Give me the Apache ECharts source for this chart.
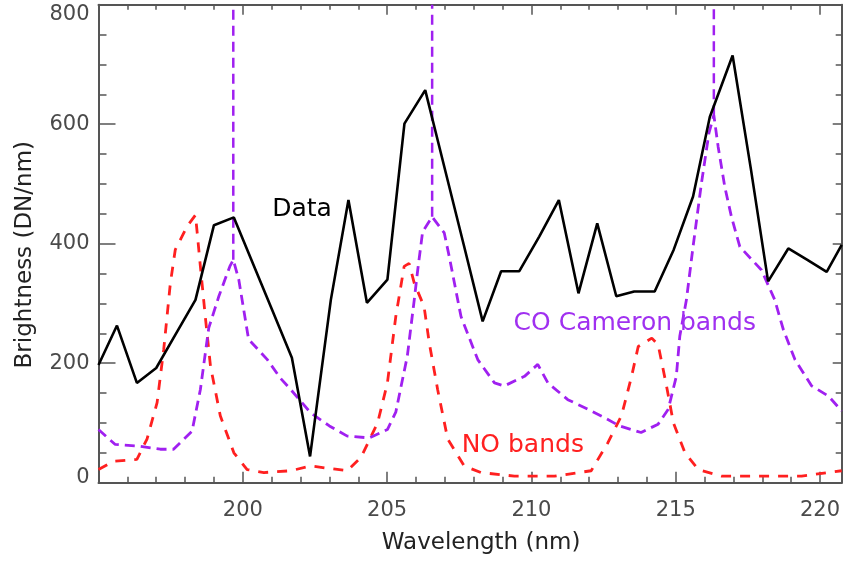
<!DOCTYPE html>
<html><head><meta charset="utf-8">
<script src="https://cdn.jsdelivr.net/npm/echarts@6/dist/echarts.min.js"></script>
<style>html,body{margin:0;padding:0;background:#fff}#c{width:846px;height:565px}</style>
</head><body><div id="c"></div>
<script>
// ---- data ----
const dataLine = [[195.0,197],[195.64,263],[196.33,167],[197.0,192],[197.68,249],[198.36,306],[199.0,431],[199.69,444],[200.35,367],[201.0,291],[201.7,209],[202.33,44],[203.05,306],[203.66,473],[204.3,301],[205.01,340],[205.6,601],[206.32,657],[207.0,525],[207.65,399],[208.31,270],[208.95,354],[209.58,354],[210.27,412],[210.95,473],[211.63,317],[212.28,434],[212.94,312],[213.56,320],[214.27,320],[214.93,390],[215.6,479],[216.18,612],[216.97,715],[217.6,526],[218.2,337],[218.9,392],[219.56,373],[220.23,353],[220.75,398]];
const coBands = [[195.0,89],[195.58,64],[196.45,61],[197.14,56],[197.6,56],[198.24,86],[198.53,156],[198.82,259],[199.17,312],[199.55,362],[199.67,373],[199.86,340],[200.2,240],[200.85,206],[201.3,175],[201.66,156],[202.35,117],[203.0,95],[203.62,78],[204.38,75],[205.01,89],[205.3,118],[205.7,212],[205.94,306],[206.06,356],[206.23,420],[206.56,445],[206.98,418],[207.15,379],[207.56,278],[208.14,206],[208.72,167],[209.06,162],[209.76,178],[210.22,198],[210.57,167],[211.26,139],[211.96,123],[212.53,109],[213.05,95],[213.8,84],[214.39,98],[214.74,123],[215.02,178],[215.14,245],[215.37,306],[215.6,395],[215.89,501],[216.15,585],[216.32,615],[216.47,562],[216.7,495],[216.93,445],[217.22,395],[217.97,356],[218.43,306],[218.73,256],[219.13,206],[219.71,162],[220.29,145],[220.75,120]];
const noBands = [[195.0,22],[195.52,36],[196.33,39],[196.68,73],[197.03,134],[197.26,223],[197.49,334],[197.66,390],[198.07,429],[198.36,448],[198.42,418],[198.53,362],[198.7,278],[198.88,195],[199.22,112],[199.69,50],[200.15,22],[200.73,17],[201.66,20],[202.35,28],[203.62,20],[204.09,42],[204.67,100],[205.01,167],[205.3,278],[205.59,362],[205.76,367],[205.94,334],[206.28,295],[206.46,234],[206.75,156],[207.1,73],[207.67,28],[208.25,17],[209.41,11],[210.8,11],[212.07,20],[212.65,67],[213.12,112],[213.47,178],[213.7,228],[214.17,242],[214.39,231],[214.68,162],[214.92,100],[215.32,50],[215.78,22],[216.59,11],[217.97,11],[219.36,11],[220.75,20]];
const coSpikes = [[199.67,373],[206.56,445],[216.32,615]];
const xTickLabels = [200,205,210,215,220];
const yTickLabels = [0,200,400,600,800];
const xRange = [195, 220.75];
const yRange = [0, 800];
const annotations = [
  {text:'Data', x:202.05, y:458, color:'#000000'},
  {text:'CO Cameron bands', x:213.58, y:266, color:'#a030f0'},
  {text:'NO bands', x:209.70, y:62, color:'#ff2020'}
];

const FF = 'DejaVu Sans';
const AX = '#555555';
const chart = echarts.init(document.getElementById('c'), null, {renderer:'canvas'});

function xAx(pos, interval, tickLen, showLine, extra) {
  return Object.assign({
    type:'value', position:pos, min:xRange[0], max:xRange[1], interval:interval,
    axisLine:{show:showLine, onZero:false, lineStyle:{color:AX, width:2}},
    axisTick:{show:true, inside:true, length:tickLen, lineStyle:{color:AX, width:1.5}},
    axisLabel:{show:false}, splitLine:{show:false}, minorTick:{show:false}
  }, extra || {});
}
function yAx(pos, tickLen, minorLen, extra) {
  return Object.assign({
    type:'value', position:pos, min:yRange[0], max:yRange[1], interval:200,
    axisLine:{show:true, onZero:false, lineStyle:{color:AX, width:2}},
    axisTick:{show:true, inside:true, length:tickLen, lineStyle:{color:AX, width:1.5}},
    minorTick:{show:true, splitNumber:4, length:minorLen, lineStyle:{color:AX, width:1.5}},
    axisLabel:{show:false}, splitLine:{show:false}
  }, extra || {});
}

const series = [
  {type:'line', data:noBands, symbol:'none', silent:true, z:2,
   lineStyle:{color:'#ff2020', width:2.8, type:[10,9]}},
  {type:'line', data:coBands, symbol:'none', silent:true, z:3,
   lineStyle:{color:'#a020f0', width:2.8, type:[10,6]}}
];
coSpikes.forEach(p => series.push({type:'line', data:[[p[0],p[1]],[p[0],yRange[1]]], symbol:'none', silent:true, z:3,
   lineStyle:{color:'#a020f0', width:2.5, type:[10,6]}}));
series.push({type:'line', data:dataLine, symbol:'none', silent:true, z:4,
   lineStyle:{color:'#000000', width:2.6}});
annotations.forEach(a => series.push({type:'scatter', data:[[a.x,a.y]], symbol:'circle', symbolSize:1, silent:true, z:6,
   itemStyle:{color:'rgba(0,0,0,0)'},
   label:{show:true, position:'inside', formatter:a.text, color:a.color, textBorderWidth:0, opacity:1,
          fontSize:25, fontFamily:FF}}));

chart.setOption({
  animation:false,
  backgroundColor:'#ffffff',
  grid:{left:98.5, right:4.3, top:4.7, bottom:82.3, containLabel:false},
  xAxis:[
    xAx('bottom', 5, 11, true, {
      axisLabel:{show:true, margin:17, fontSize:21, color:'#4a4a4a', fontFamily:FF,
        formatter: v => xTickLabels.indexOf(Math.round(v*100)/100) >= 0 ? String(v) : ''},
      name:'Wavelength (nm)', nameLocation:'middle', nameGap:49,
      nameTextStyle:{fontSize:23, color:'#222', fontFamily:FF, padding:[0,0,0,22]}
    }),
    xAx('bottom', 1, 6, false),
    xAx('top', 5, 10, true),
    xAx('top', 1, 5, false)
  ],
  yAxis:[
    yAx('left', 17, 8, {
      axisLabel:{show:true, margin:9, fontSize:21, color:'#4a4a4a', fontFamily:FF,
        formatter: v => {
          if (yTickLabels.indexOf(v) < 0) return '';
          if (v === yRange[0]) return '{lo|' + v + '}';
          if (v === yRange[1]) return '{hi|' + v + '}';
          return String(v);
        },
        rich:{
          lo:{fontSize:21, color:'#4a4a4a', fontFamily:FF, padding:[0,0,10,0]},
          hi:{fontSize:21, color:'#4a4a4a', fontFamily:FF, padding:[20,0,0,0]}
        }},
      name:'Brightness (DN/nm)', nameLocation:'middle', nameGap:62, nameRotate:90,
      nameTextStyle:{fontSize:23, color:'#222', fontFamily:FF, padding:[0,22,0,0]}
    }),
    yAx('right', 9, 6)
  ],
  series: series
});
</script></body></html>
